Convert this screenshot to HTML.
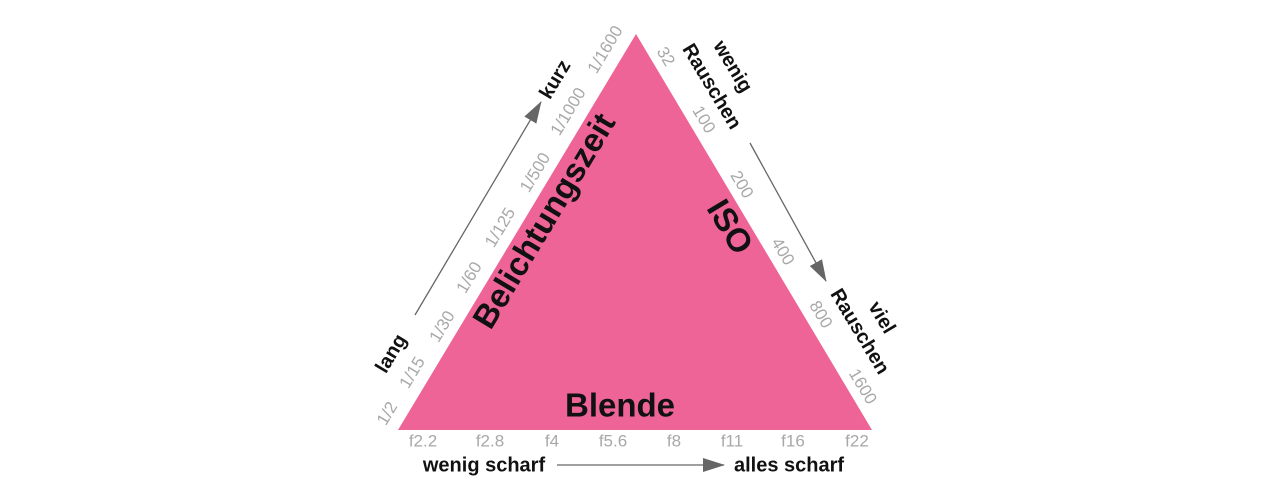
<!DOCTYPE html>
<html><head><meta charset="utf-8"><style>
html,body{margin:0;padding:0;background:#fff;}
svg{display:block;}
text{font-family:"Liberation Sans",sans-serif;}
.g{fill:#a8a8a8;font-size:17px;}
.b{fill:#111;font-weight:bold;font-size:20px;}
.big{fill:#111;font-weight:bold;font-size:33px;}
</style></head><body>
<svg width="1266" height="496" viewBox="0 0 1266 496">
<defs>
<marker id="ah2" markerWidth="22" markerHeight="14" refX="21" refY="7" orient="auto" markerUnits="userSpaceOnUse" viewBox="0 0 22 14"><path d="M0,0 L22,7 L0,14 z" fill="#666"/></marker></defs>
<polygon points="398,430 636,34 872,430" fill="#ef6497"/>
<g text-anchor="middle" dominant-baseline="middle">
<text class="g" transform="translate(606,50) rotate(-59)">1/1600</text>
<text class="g" transform="translate(569,112) rotate(-59)">1/1000</text>
<text class="g" transform="translate(536,173) rotate(-59)">1/500</text>
<text class="g" transform="translate(501,228) rotate(-59)">1/125</text>
<text class="g" transform="translate(470,278) rotate(-59)">1/60</text>
<text class="g" transform="translate(443,327) rotate(-59)">1/30</text>
<text class="g" transform="translate(413,373) rotate(-59)">1/15</text>
<text class="g" transform="translate(388,414) rotate(-59)">1/2</text>
<text class="b" transform="translate(556,80) rotate(-59)">kurz</text>
<text class="b" transform="translate(392,354) rotate(-59)">lang</text>
<text class="big" transform="translate(546,222) rotate(-59)">Belichtungszeit</text>
<text class="big" transform="translate(728,228) rotate(59)">ISO</text>
<text class="g" transform="translate(665,57) rotate(59)">32</text>
<text class="g" transform="translate(703,120) rotate(59)">100</text>
<text class="g" transform="translate(741,185) rotate(59)">200</text>
<text class="g" transform="translate(782,252) rotate(59)">400</text>
<text class="g" transform="translate(820,315) rotate(59)">800</text>
<text class="g" transform="translate(862,387) rotate(59)">1600</text>
<text class="b" transform="translate(732,67) rotate(59)">wenig</text>
<text class="b" transform="translate(711,87) rotate(59)">Rauschen</text>
<text class="b" transform="translate(881,318) rotate(59)">viel</text>
<text class="b" transform="translate(859,332) rotate(59)">Rauschen</text>
<text class="big" x="620" y="408" font-size="30">Blende</text>
<text class="g" x="423" y="442">f2.2</text>
<text class="g" x="490" y="442">f2.8</text>
<text class="g" x="552" y="442">f4</text>
<text class="g" x="613" y="442">f5.6</text>
<text class="g" x="674" y="442">f8</text>
<text class="g" x="732" y="442">f11</text>
<text class="g" x="793" y="442">f16</text>
<text class="g" x="857" y="442">f22</text>
<text class="b" x="484" y="466" font-size="19">wenig scharf</text>
<text class="b" x="789" y="466" font-size="19">alles scharf</text>
</g>
<line x1="415" y1="315" x2="541" y2="102" stroke="#666" stroke-width="1.3" marker-end="url(#ah2)"/>
<line x1="750" y1="143" x2="826" y2="281" stroke="#666" stroke-width="1.3" marker-end="url(#ah2)"/>
<line x1="557" y1="465" x2="724" y2="465" stroke="#666" stroke-width="1.3" marker-end="url(#ah2)"/>
</svg>
</body></html>
